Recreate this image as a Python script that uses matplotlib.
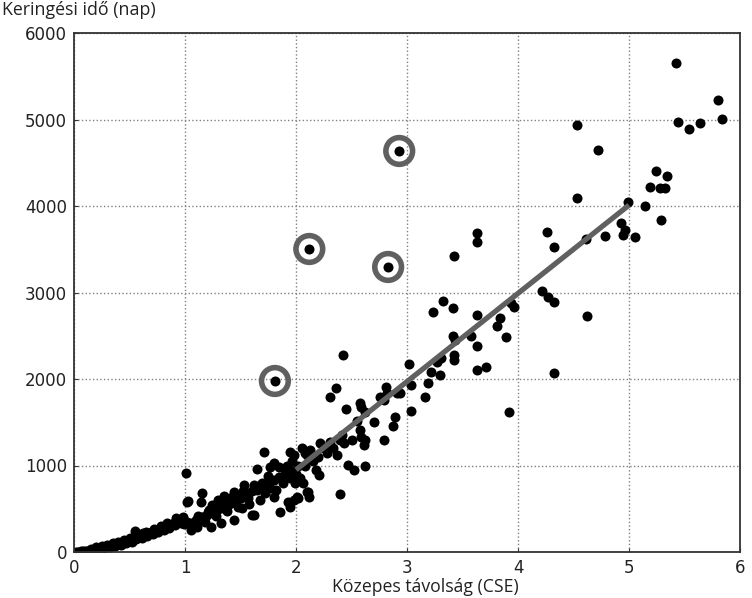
#!/usr/bin/env python3
# keringes.py
# Keringesi ido a kozepes tavolsag fuggvenyeben

import numpy as np
import matplotlib
matplotlib.use('Agg')
import matplotlib.pyplot as plt

plt.rcParams['font.family'] = ['Open Sans', 'DejaVu Sans']

# DATOS (tav [CSE], ido [nap]) leolvasva a kepről
pontok_0_1 = [(0.02, 2), (0.04, 4), (0.06, 6), (0.08, 9), (0.10, 12), (0.12, 15),
              (0.14, 19), (0.16, 24), (0.18, 28), (0.20, 34), (0.22, 38), (0.24, 44),
              (0.26, 50), (0.27, 42), (0.29, 58), (0.31, 64), (0.32, 55), (0.34, 72),
              (0.36, 80), (0.37, 68), (0.39, 88), (0.41, 96), (0.42, 82), (0.44, 106),
              (0.46, 115), (0.47, 100), (0.49, 126), (0.51, 135), (0.52, 118), (0.54, 146),
              (0.55, 243), (0.56, 155), (0.58, 168), (0.60, 178), (0.61, 158), (0.63, 190),
              (0.65, 200), (0.66, 182), (0.68, 215), (0.70, 228), (0.71, 205), (0.73, 240),
              (0.75, 252), (0.76, 232), (0.78, 265), (0.80, 278), (0.81, 255), (0.83, 292),
              (0.85, 305), (0.86, 282), (0.88, 322), (0.90, 335), (0.91, 312), (0.93, 350),
              (0.95, 362), (0.96, 340), (0.98, 380), (0.99, 320), (0.62, 225), (0.72, 270),
              (0.84, 340), (0.92, 395), (0.45, 140), (0.35, 100), (0.25, 65), (0.15, 35),
              (0.20, 60), (0.30, 85), (0.40, 120), (0.50, 160), (0.65, 230), (0.78, 300)]

pontok_1_2 = [(1.01, 917), (1.02, 582), (1.15, 679), (1.14, 582), (1.35, 647), (1.71, 1160),
              (1.65, 956), (1.80, 1025), (1.77, 986), (1.98, 1121), (1.92, 948), (1.95, 852),
              (1.99, 794), (1.93, 582), (1.86, 466), (1.69, 794), (1.77, 736), (1.80, 639),
              (1.53, 775), (1.56, 679), (1.57, 621), (1.51, 505), (1.60, 428), (1.44, 697),
              (1.47, 639), (1.41, 563), (1.33, 505), (1.32, 582), (1.03, 590), (1.24, 543),
              (1.21, 466), (1.16, 408), (1.44, 370), (1.32, 332), (1.23, 293), (1.11, 293),
              (1.02, 350), (0.98, 408), (1.05, 254), (1.12, 350), (1.95, 524), (1.62, 428),
              (1.05, 330), (1.10, 370), (1.15, 400), (1.20, 430), (1.25, 470), (1.30, 500),
              (1.35, 540), (1.40, 560), (1.45, 600), (1.50, 620), (1.55, 650), (1.60, 700),
              (1.65, 720), (1.70, 760), (1.75, 800), (1.80, 830), (1.85, 870), (1.90, 900),
              (1.95, 950), (1.08, 300), (1.18, 350), (1.28, 420), (1.38, 470), (1.48, 520),
              (1.58, 560), (1.68, 600), (1.72, 680), (1.82, 720), (1.88, 800), (1.92, 1000),
              (1.96, 1050), (1.85, 980), (1.75, 880), (1.62, 780), (1.52, 700), (1.42, 640),
              (1.30, 600), (1.22, 480), (1.12, 420)]

pontok_2_3 = [(2.42, 2277), (2.36, 1900), (2.31, 1788), (2.45, 1650), (2.58, 1726),
              (2.59, 1680), (2.62, 1622), (2.81, 1904), (2.82, 1835), (2.76, 1788),
              (2.79, 1757), (2.91, 1842), (2.89, 1557), (2.87, 1457), (2.79, 1295),
              (2.55, 1518), (2.58, 1410), (2.59, 1333), (2.62, 1295), (2.61, 1237),
              (2.41, 1353), (2.40, 1295), (2.43, 1257), (2.31, 1275), (2.22, 1257),
              (2.25, 1199), (2.37, 1121), (2.13, 1179), (2.10, 1121), (2.47, 1006),
              (2.52, 948), (2.62, 994), (2.21, 890), (2.40, 667), (2.11, 697), (2.12, 639),
              (2.01, 639), (1.98, 601), (2.08, 1141), (1.95, 1160), (2.02, 1000),
              (2.00, 900), (2.04, 850), (2.06, 800), (2.08, 1000), (2.15, 1050),
              (2.18, 950), (2.20, 1100), (2.05, 1200), (2.94, 1838), (2.28, 1150),
              (2.33, 1200), (2.50, 1300), (2.70, 1500), (2.10, 697), (2.02, 621)]

pontok_3_4 = [(3.63, 3684), (3.63, 3588), (3.42, 3422), (3.32, 2905), (3.23, 2778),
              (3.41, 2821), (3.63, 2744), (3.94, 2882), (3.96, 2829), (3.81, 2613),
              (3.84, 2701), (3.89, 2482), (3.41, 2497), (3.43, 2451), (3.58, 2497),
              (3.63, 2385), (3.02, 2170), (3.31, 2239), (3.27, 2200), (3.42, 2277),
              (3.42, 2220), (3.22, 2084), (3.30, 2046), (3.63, 2104), (3.71, 2142),
              (3.04, 1931), (3.19, 1950), (3.16, 1796), (3.04, 1634), (3.92, 1615)]

pontok_4_6 = [(5.42, 5657), (5.80, 5222), (5.84, 5002), (5.44, 4967), (5.54, 4894),
              (5.64, 4956), (4.53, 4936), (4.72, 4643), (5.24, 4408), (5.34, 4347),
              (5.19, 4220), (5.28, 4205), (5.32, 4205), (5.14, 4000), (4.99, 4046),
              (5.29, 3838), (4.53, 4096), (4.93, 3807), (4.96, 3723), (4.95, 3665),
              (5.05, 3638), (4.78, 3653), (4.61, 3622), (4.26, 3703), (4.32, 3526),
              (4.22, 3021), (4.27, 2952), (4.32, 2887), (4.62, 2732), (4.32, 2073)]

# bekarikazott (kiugro) pontok
kiemelt_tav = [1.81, 2.12, 2.83, 2.93]
kiemelt_ido = [1977, 3503, 3295, 4636]

# illesztett egyenes vegpontjai
illesztes_tav = [2.0, 5.0]
illesztes_ido = [950, 4010]

if __name__ == '__main__':
    pontok = np.array(pontok_0_1 + pontok_1_2 + pontok_2_3 + pontok_3_4 + pontok_4_6)

    fig = plt.figure(figsize=(7.52, 5.98), dpi=100)
    ax = fig.add_axes([74/752, 46/598, 666/752, 519/598])

    ax.grid(True, linestyle=':', color='#808080', linewidth=1.0)
    ax.set_axisbelow(True)

    ax.scatter(pontok[:, 0], pontok[:, 1], s=52, c='black', linewidths=0, zorder=2)
    ax.scatter(kiemelt_tav, kiemelt_ido, s=52, c='black', linewidths=0, zorder=2)
    ax.scatter(kiemelt_tav, kiemelt_ido, s=370, facecolors='none',
               edgecolors='#606060', linewidths=4.0, zorder=3)
    ax.plot(illesztes_tav, illesztes_ido, color='#606060', linewidth=3.8,
            solid_capstyle='butt', zorder=4)

    ax.set_xlim(0, 6)
    ax.set_ylim(0, 6000)
    ax.set_xticks(range(0, 7))
    ax.set_yticks(range(0, 7000, 1000))
    ax.tick_params(direction='in', length=3, color='#333333', pad=5)
    for lab in ax.get_xticklabels() + ax.get_yticklabels():
        lab.set_fontfamily('DejaVu Sans')
        lab.set_fontsize(12)
        lab.set_color('#222222')
    for sp in ax.spines.values():
        sp.set_linewidth(1.3)
        sp.set_color('#333333')

    # tengelyfeliratok
    fig.text(425/752, 1 - 592/598, 'Közepes távolság (CSE)', fontsize=12.7,
             va='baseline', ha='center', color='#222222')
    fig.text(0.002, 0.975, 'Keringési idő (nap)', fontsize=12.8,
             va='baseline', ha='left', color='#222222')

    fig.savefig('out.png', dpi=100)
